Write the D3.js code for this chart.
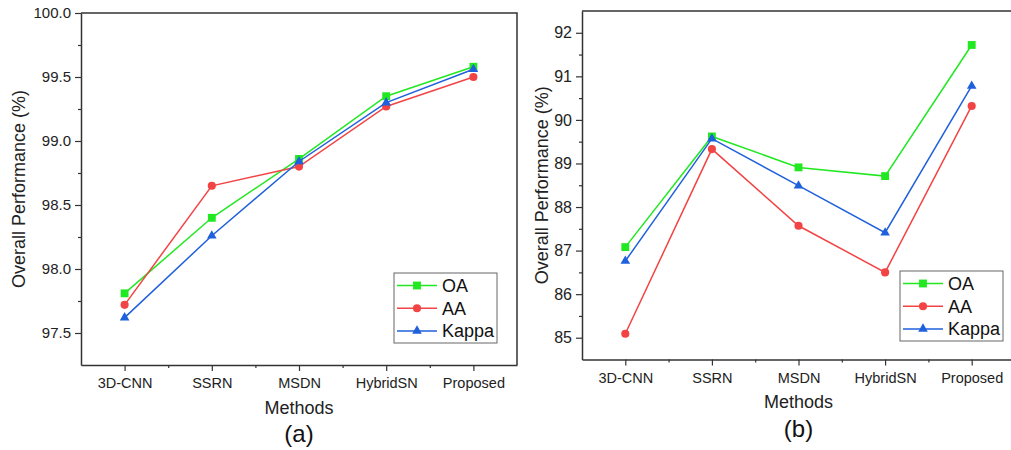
<!DOCTYPE html>
<html>
<head>
<meta charset="utf-8">
<script src="https://cdnjs.cloudflare.com/ajax/libs/d3/7.8.5/d3.min.js"></script>
<style>
  body { margin: 0; background: #fff; }
  svg { display: block; font-family: "Liberation Sans", Arial, sans-serif; }
  .frame { stroke: #333; stroke-width: 1.5; fill: none; }
</style>
</head>
<body>
<svg width="1011" height="450"></svg>
<script>
// categories shared by both panels
var methods = ["3D-CNN", "SSRN", "MSDN", "HybridSN", "Proposed"];
var seriesNames = ["OA", "AA", "Kappa"];

// panel (a) values
var oaA    = [97.81, 98.40, 98.86, 99.35, 99.58];
var aaA    = [97.72, 98.65, 98.80, 99.27, 99.50];
var kappaA = [97.62, 98.26, 98.84, 99.30, 99.56];
var ticksA = [97.5, 98.0, 98.5, 99.0, 99.5, 100.0];

// panel (b) values
var oaB    = [87.08, 89.62, 88.91, 88.71, 91.72];
var aaB    = [85.09, 89.33, 87.57, 86.50, 90.32];
var kappaB = [86.76, 89.57, 88.49, 87.41, 90.78];
var ticksB = [85, 86, 87, 88, 89, 90, 91, 92];

var colors = {OA: "#22e822", AA: "#f24444", Kappa: "#1f60dc"};
var symbols = {OA: d3.symbolSquare, AA: d3.symbolCircle, Kappa: d3.symbolTriangle};
var symSize = {OA: 62, AA: 52, Kappa: 40};

var svg = d3.select("svg");

function drawPanel(p) {
  var g = svg.append("g");
  var x = d3.scaleLinear().domain([-0.5, methods.length - 0.5]).range([p.left, p.right]);
  var y = d3.scaleLinear().domain(p.domain).range([p.bottom, p.top]);

  // frame: top and right edges
  g.append("path").attr("class", "frame")
    .attr("d", "M" + p.left + "," + p.top + "H" + p.right + "V" + p.bottom);

  // y axis major + minor
  var ya = g.append("g").attr("transform", "translate(" + p.left + ",0)")
    .call(d3.axisLeft(y).tickValues(p.ticks).tickSize(6).tickSizeOuter(0).tickPadding(4).tickFormat(p.fmt));
  var minorY = p.ticks.map(function(t) { return t + p.step / 2; }).filter(function(t) { return t < p.domain[1]; });
  g.append("g").attr("transform", "translate(" + p.left + ",0)")
    .call(d3.axisLeft(y).tickValues(minorY).tickSize(3).tickFormat(""))
    .select(".domain").remove();
  ya.selectAll("text").attr("font-size", p.yFont).attr("fill", "#222");

  // x axis major + minor
  var xa = g.append("g").attr("transform", "translate(0," + p.bottom + ")")
    .call(d3.axisBottom(x).tickValues(d3.range(methods.length)).tickSize(6).tickSizeOuter(0)
      .tickPadding(7).tickFormat(function(i) { return methods[i]; }));
  g.append("g").attr("transform", "translate(0," + p.bottom + ")")
    .call(d3.axisBottom(x).tickValues(d3.range(methods.length - 1).map(function(i) { return i + 0.5; }))
      .tickSize(3).tickFormat(""))
    .select(".domain").remove();
  xa.selectAll("text").attr("font-size", 14.5).attr("fill", "#222");
  g.selectAll(".domain").attr("stroke", "#333").attr("stroke-width", 1.5);
  g.selectAll(".tick line").attr("stroke", "#333").attr("stroke-width", 1.2);

  // series
  var line = d3.line().x(function(d, i) { return x(i); }).y(function(d) { return y(d); });
  p.series.forEach(function(vals, k) {
    var name = seriesNames[k];
    g.append("path").datum(vals).attr("d", line)
      .attr("fill", "none").attr("stroke", colors[name]).attr("stroke-width", 1.5);
    g.selectAll(null).data(vals).enter().append("path")
      .attr("transform", function(d, i) { return "translate(" + x(i) + "," + y(d) + ")"; })
      .attr("d", d3.symbol().type(symbols[name]).size(symSize[name]))
      .attr("fill", colors[name]);
  });

  // legend
  var lg = g.append("g").attr("transform", "translate(" + p.legend[0] + "," + p.legend[1] + ")");
  lg.append("rect").attr("width", 103).attr("height", 70)
    .attr("fill", "#fff").attr("stroke", "#666").attr("stroke-width", 1);
  seriesNames.forEach(function(name, k) {
    var yy = 12.5 + k * 22.7;
    lg.append("line").attr("x1", 3).attr("x2", 43).attr("y1", yy).attr("y2", yy)
      .attr("stroke", colors[name]).attr("stroke-width", 1.5);
    lg.append("path").attr("transform", "translate(23," + yy + ")")
      .attr("d", d3.symbol().type(symbols[name]).size(symSize[name])).attr("fill", colors[name]);
    lg.append("text").attr("x", 48).attr("y", yy + 6.5).attr("font-size", 18).attr("fill", "#111").text(name);
  });

  // titles
  var cy = (p.top + p.bottom) / 2;
  g.append("text").attr("transform", "translate(" + p.yTitleX + "," + cy + ") rotate(-90)")
    .attr("text-anchor", "middle").attr("font-size", 18).attr("fill", "#222").text("Overall Performance (%)");
  g.append("text").attr("x", x(2)).attr("y", p.methodsY).attr("text-anchor", "middle")
    .attr("font-size", 18).attr("fill", "#222").text("Methods");
  g.append("text").attr("x", x(2)).attr("y", p.labelY).attr("text-anchor", "middle")
    .attr("font-size", 24).attr("fill", "#111").text(p.label);
}

drawPanel({
  left: 81, right: 517, top: 13, bottom: 365,
  domain: [97.25, 100], ticks: ticksA, step: 0.5, fmt: d3.format(".1f"), yFont: 15,
  series: [oaA, aaA, kappaA], legend: [394, 273],
  yTitleX: 25, methodsY: 414, labelY: 442, label: "(a)"
});
drawPanel({
  left: 582, right: 1015, top: 11, bottom: 359.5,
  domain: [84.5, 92.5], ticks: ticksB, step: 1, fmt: d3.format("d"), yFont: 16,
  series: [oaB, aaB, kappaB], legend: [900, 271],
  yTitleX: 548, methodsY: 408, labelY: 437, label: "(b)"
});
</script>
</body>
</html>
